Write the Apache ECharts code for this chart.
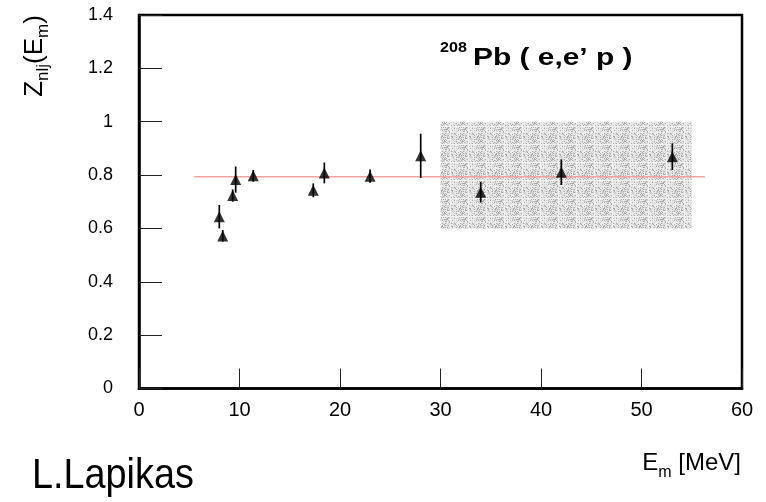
<!DOCTYPE html>
<html>
<head>
<meta charset="utf-8">
<script src="https://cdn.jsdelivr.net/npm/echarts@6/dist/echarts.min.js"></script>
<style>
  html, body { margin: 0; padding: 0; background: #fff; }
  #chart { width: 766px; height: 502px; }
</style>
</head>
<body>
<div id="chart"></div>
<script>
// ---- data ----
const emValues = [7.99, 8.33, 9.32, 9.62, 11.37, 17.34, 18.44, 22.99, 28.03, 34.0, 42.02, 53.07];
const zValues  = [0.644, 0.572, 0.723, 0.783, 0.797, 0.743, 0.808, 0.796, 0.872, 0.736, 0.811, 0.869];
const zErrors  = [0.044, 0.022, 0.023, 0.049, 0.022, 0.026, 0.039, 0.025, 0.083, 0.039, 0.048, 0.050];
const meanZ = 0.794;
const meanRange = [5.5, 56.3];
const bandX = [30, 55];
const bandY = [0.6, 1.0];
const xTicks = [0, 10, 20, 30, 40, 50, 60];
const yTicks = [0, 0.2, 0.4, 0.6, 0.8, 1.0, 1.2, 1.4];

// ---- grey speckled texture with faint white grid, for the band ----
function makePattern() {
  const N = 18;
  const c = document.createElement('canvas');
  c.width = N; c.height = N;
  const ctx = c.getContext('2d');
  const img = ctx.createImageData(N, N);
  for (let j = 0; j < N; j++) {
    for (let i = 0; i < N; i++) {
      let g;
      if (i === 0 || j === 0) {
        g = 242;
      } else {
        const h = (i * 7919 + j * 104729 + i * j * 31 + (i ^ j) * 57) % 97;
        g = h < 22 ? 168 : (h < 50 ? 208 : 236);
      }
      const k = (j * N + i) * 4;
      img.data[k] = g; img.data[k + 1] = g; img.data[k + 2] = g; img.data[k + 3] = 255;
    }
  }
  ctx.putImageData(img, 0, 0);
  return c;
}

const chart = echarts.init(document.getElementById('chart'), null, { renderer: 'canvas' });
const FONT = '"Liberation Sans", Arial, Helvetica, sans-serif';

const option = {
  animation: false,
  backgroundColor: '#ffffff',
  grid: {
    left: 139, right: 24, top: 15, bottom: 113.5,
    show: true, borderColor: '#000', borderWidth: 2.5, backgroundColor: 'transparent'
  },
  xAxis: {
    type: 'value', min: xTicks[0], max: xTicks[xTicks.length - 1], interval: 10,
    splitLine: { show: false },
    axisLine: { show: true, onZero: false, lineStyle: { color: '#000', width: 2.5 } },
    axisTick: { show: true, inside: true, length: 20, lineStyle: { color: '#222', width: 1 } },
    axisLabel: { margin: 12, color: '#000', fontSize: 20, fontFamily: FONT }
  },
  yAxis: {
    type: 'value', min: yTicks[0], max: yTicks[yTicks.length - 1], interval: 0.2,
    splitLine: { show: false },
    axisLine: { show: true, onZero: false, lineStyle: { color: '#000', width: 2.5 } },
    axisTick: { show: true, inside: true, length: 23, lineStyle: { color: '#222', width: 1 } },
    axisLabel: { margin: 26, color: '#000', fontSize: 18, fontFamily: FONT }
  },
  series: [
    {
      type: 'line', z: 1, silent: true, data: [],
      markArea: {
        silent: true,
        itemStyle: { color: { image: makePattern(), repeat: 'repeat' }, opacity: 1 },
        data: [[{ coord: [bandX[0], bandY[1]] }, { coord: [bandX[1], bandY[0]] }]]
      }
    },
    {
      type: 'line', z: 2, silent: true, symbol: 'none',
      lineStyle: { color: '#f2a0a0', width: 1.5 },
      data: [[meanRange[0], meanZ], [meanRange[1], meanZ]]
    },
    {
      type: 'custom', z: 3, silent: true,
      data: emValues.map((x, i) => [x, zValues[i], zErrors[i]]),
      renderItem: function (params, api) {
        const x = api.value(0), y = api.value(1), e = api.value(2);
        const p1 = api.coord([x, y + e]);
        const p2 = api.coord([x, y - e]);
        return {
          type: 'line',
          shape: { x1: p1[0], y1: p1[1], x2: p2[0], y2: p2[1] },
          style: { stroke: '#000', lineWidth: 1.7 }
        };
      }
    },
    {
      type: 'scatter', z: 4, silent: true,
      symbol: 'triangle', symbolSize: [11, 11],
      itemStyle: { color: '#000' },
      data: emValues.map((x, i) => [x, zValues[i]])
    }
  ],
  graphic: [
    {
      type: 'text', x: 440, y: 48, z: 10, scaleX: 1.15,
      style: { text: '208', font: 'bold 14px ' + FONT, fill: '#000',
               textAlign: 'left', textVerticalAlign: 'middle' }
    },
    {
      type: 'text', x: 473, y: 58.5, z: 10, scaleX: 1.3,
      style: { text: 'Pb ( e,e\u2019 p )', font: 'bold 23px ' + FONT, fill: '#000',
               textAlign: 'left', textVerticalAlign: 'middle' }
    },
    {
      type: 'text', x: 37, y: 56, rotation: Math.PI / 2, z: 10,
      style: {
        text: '{a|Z}{s|nlj}{a|(E}{s|m}{a|)}',
        textAlign: 'center', textVerticalAlign: 'middle', fill: '#000',
        rich: {
          a: { fontSize: 26, fontFamily: FONT, lineHeight: 30, verticalAlign: 'top', fill: '#000' },
          s: { fontSize: 17, fontFamily: FONT, lineHeight: 16, verticalAlign: 'bottom', fill: '#000' }
        }
      }
    },
    {
      type: 'text', x: 741, y: 466, z: 10,
      style: {
        text: '{a|E}{s|m}{a| [MeV]}',
        textAlign: 'right', textVerticalAlign: 'middle', fill: '#000',
        rich: {
          a: { fontSize: 24, fontFamily: FONT, lineHeight: 30, verticalAlign: 'top', fill: '#000' },
          s: { fontSize: 16, fontFamily: FONT, lineHeight: 16, verticalAlign: 'bottom', fill: '#000' }
        }
      }
    },
    {
      type: 'text', x: 32, y: 476, z: 10, scaleX: 0.9,
      style: { text: 'L.Lapikas', font: '42px ' + FONT, fill: '#000',
               textAlign: 'left', textVerticalAlign: 'middle' }
    }
  ]
};
chart.setOption(option);
</script>
</body>
</html>
